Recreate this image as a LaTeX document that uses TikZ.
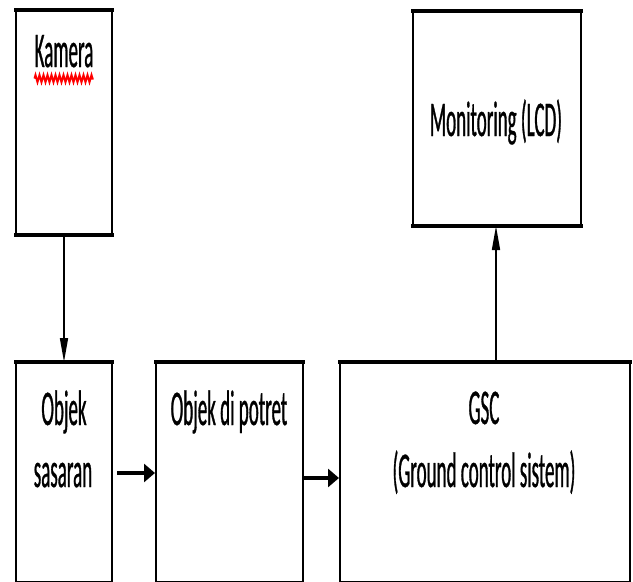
\documentclass[tikz,border=0pt]{standalone}
\usepackage{fontspec}
\newfontfamily\condfont[FakeStretch=0.38,FakeBold=0.6]{Carlito}
\usetikzlibrary{arrows.meta,decorations.pathmorphing}
\tikzset{
  blk/.style={draw=black, line width=2pt, fill=white, inner sep=0pt, anchor=north west},
  edge/.style={line width=4.5pt, line cap=butt},
  lbl/.style={font=\condfont\fontsize{50}{54}\selectfont, inner sep=0pt, text=black},
  thinarrow/.style={line width=1.6pt, -{Triangle[length=24pt,width=8pt]}},
  thickarrow/.style={line width=4pt, -{Triangle[length=11pt,width=18pt]}},
}
\begin{document}
\begin{tikzpicture}[x=1pt,y=-1pt]
\useasboundingbox (0,0) rectangle (633,582);
\fill[white] (0,0) rectangle (633,582);
% boxes
\node[blk, minimum width=96pt, minimum height=223pt] (kam) at (15,10) {};
\node[blk, minimum width=168pt, minimum height=213pt] (mon) at (412,11) {};
\node[blk, minimum width=96pt, minimum height=219pt] (sas) at (15,362) {};
\node[blk, minimum width=147pt, minimum height=219pt] (pot) at (155,362) {};
\node[blk, minimum width=290pt, minimum height=219pt] (gsc) at (339,362) {};
% thick top/bottom edges
\foreach \b in {kam,mon,sas,pot,gsc}{
  \draw[edge] ([xshift=-1pt]\b.north west) -- ([xshift=1pt]\b.north east);
}
\draw[edge] ([xshift=-1pt]kam.south west) -- ([xshift=1pt]kam.south east);
\draw[edge] ([xshift=-1pt]mon.south west) -- ([xshift=1pt]mon.south east);
% texts
\node[lbl, anchor=base] (tkam) at (64,67) {Kamera};
\draw[red, line width=2pt, decorate, decoration={zigzag, segment length=4pt, amplitude=3.5pt}]
  ([yshift=-11pt]tkam.south west) -- ([yshift=-11pt]tkam.south east);
\node[lbl, anchor=base] (tmon) at (496,136) {Monitoring (LCD)};
\node[lbl, anchor=base] (tsas1) at (64,425) {Objek};
\node[lbl, anchor=base] (tsas2) at (63,487) {sasaran};
\node[lbl, anchor=base] (tpot) at (229,425) {Objek di potret};
\node[lbl, anchor=base] (tgsc1) at (484,424) {GSC};
\node[lbl, anchor=base] (tgsc2) at (484,487) {(Ground control sistem)};
% connectors
\draw[thinarrow] (kam.south) -- (sas.north);
\draw[thinarrow] (gsc.north -| tmon) -- (mon.south -| tmon);
\coordinate (s1) at (117,473);
\draw[thickarrow] (s1) -- (s1 -| pot.west);
\draw[thickarrow] (pot.east |- 0,478) -- (gsc.west |- 0,478);
\end{tikzpicture}
\end{document}
